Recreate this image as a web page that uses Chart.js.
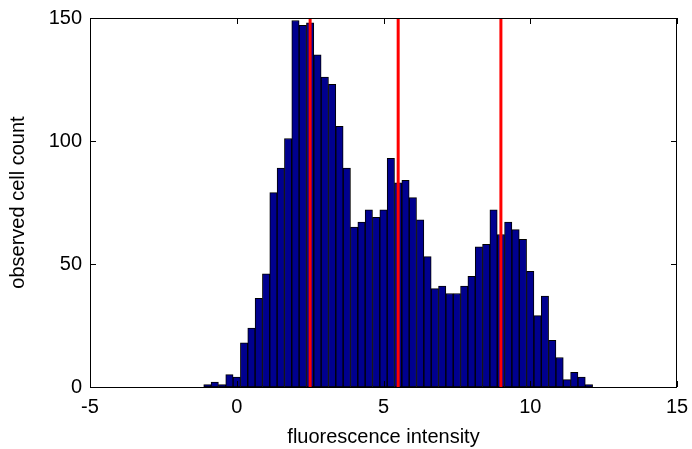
<!DOCTYPE html>
<html>
<head>
<meta charset="utf-8">
<script src="https://cdn.jsdelivr.net/npm/chart.js@4"></script>
<style>
  html, body { margin: 0; padding: 0; background: #fff; }
  #wrap { width: 692px; height: 449px; }
</style>
</head>
<body>
<div id="wrap"><canvas id="hist" width="692" height="449"></canvas></div>
<script>
/* histogram of fluorescence per cell, bin centres every 0.25 */
const binCenters = [
  -1, -0.75, -0.5, -0.25, 0, 0.25, 0.5, 0.75, 1, 1.25, 1.5, 1.75, 2,
  2.25, 2.5, 2.75, 3, 3.25, 3.5, 3.75, 4, 4.25, 4.5, 4.75, 5, 5.25,
  5.5, 5.75, 6, 6.25, 6.5, 6.75, 7, 7.25, 7.5, 7.75, 8, 8.25, 8.5,
  8.75, 9, 9.25, 9.5, 9.75, 10, 10.25, 10.5, 10.75, 11, 11.25, 11.5,
  11.75, 12
];
const cellCounts = [
  1, 2, 1, 5, 4, 18, 24, 36, 46, 79, 89, 101, 149,
  147, 148, 135, 126, 123, 106, 89, 65, 67, 72, 69, 72, 93,
  83, 84, 77, 68, 53, 40, 41, 38, 38, 41, 45, 57, 58,
  72, 62, 67, 64, 60, 47, 29, 37, 19, 12, 3, 6, 4,
  1
];
// gate positions (red vertical lines)
const thresholds = [2.5, 5.5, 9];

const xTicks = [-5, 0, 5, 10, 15];
const yTicks = [0, 50, 100, 150];

const FONT = { family: 'Arial, "Liberation Sans", sans-serif', size: 20 };

// box around the axes with inward tick marks on all four sides
const axesBox = {
  id: 'axesBox',
  afterDatasetsDraw(chart) {
    const { ctx, chartArea: a, scales } = chart;
    const len = 6;
    ctx.save();
    ctx.strokeStyle = '#000';
    ctx.lineWidth = 1;
    ctx.strokeRect(a.left + 0.5, a.top + 0.5, a.right - a.left - 1, a.bottom - a.top);
    ctx.beginPath();
    scales.x.ticks.forEach(t => {
      const px = Math.round(scales.x.getPixelForValue(t.value)) + 0.5;
      ctx.moveTo(px, a.bottom); ctx.lineTo(px, a.bottom - len);
      ctx.moveTo(px, a.top); ctx.lineTo(px, a.top + len);
    });
    scales.y.ticks.forEach(t => {
      const py = Math.round(scales.y.getPixelForValue(t.value)) + 0.5;
      ctx.moveTo(a.left, py); ctx.lineTo(a.left + len, py);
      ctx.moveTo(a.right, py); ctx.lineTo(a.right - len, py);
    });
    ctx.stroke();
    ctx.restore();
  }
};

const barData = binCenters.map((x, i) => ({ x, y: cellCounts[i] }));
const lineSets = thresholds.map(t => ({
  type: 'line',
  data: [{ x: t, y: 0 }, { x: t, y: 150 }],
  borderColor: '#ff0000',
  borderWidth: 3,
  pointRadius: 0,
  order: 1
}));

new Chart(document.getElementById('hist'), {
  type: 'bar',
  data: {
    datasets: [
      {
        data: barData,
        backgroundColor: '#00008f',
        borderColor: '#000',
        borderWidth: 1,
        borderSkipped: false,
        barPercentage: 1,
        categoryPercentage: 1,
        order: 2
      },
      ...lineSets
    ]
  },
  options: {
    responsive: false,
    animation: false,
    layout: { padding: { left: 0, right: 15, top: 18, bottom: 0 } },
    plugins: { legend: { display: false }, tooltip: { enabled: false } },
    scales: {
      x: {
        type: 'linear',
        min: -5, max: 15,
        offset: false,
        afterBuildTicks: s => { s.ticks = xTicks.map(v => ({ value: v })); },
        // fixed axis band; ignore the edge-label overflow so the frame ends at 677px
        afterFit: s => { s.height = 62; s.paddingLeft = 0; s.paddingRight = 0; },
        grid: { display: false, drawTicks: false },
        border: { display: false },
        ticks: { font: FONT, color: '#000', padding: 8, maxRotation: 0 },
        title: { display: true, text: 'fluorescence intensity', font: FONT, color: '#000', padding: { top: 3, bottom: 0 } }
      },
      y: {
        min: 0, max: 150,
        afterBuildTicks: s => { s.ticks = yTicks.map(v => ({ value: v })); },
        afterFit: s => { s.width = 90; s.paddingTop = 0; s.paddingBottom = 0; },
        grid: { display: false, drawTicks: false },
        border: { display: false },
        ticks: { font: FONT, color: '#000', padding: 8 },
        title: { display: true, text: 'observed cell count', font: FONT, color: '#000', padding: { top: 6, bottom: 4 } }
      }
    }
  },
  plugins: [axesBox]
});
</script>
</body>
</html>
